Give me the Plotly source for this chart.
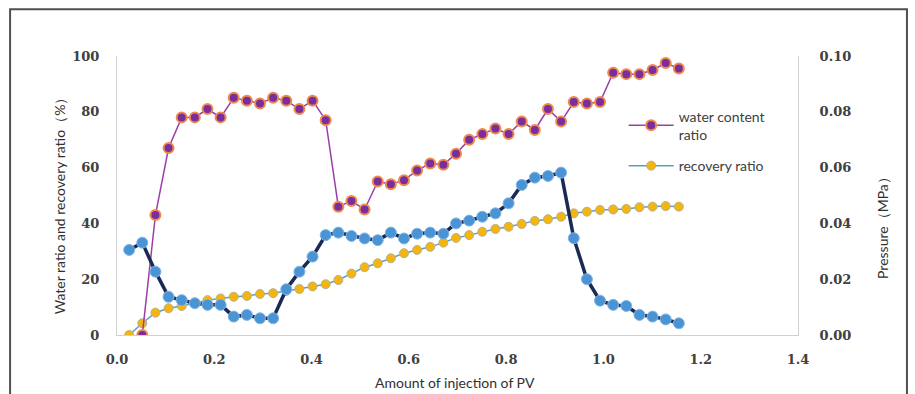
import plotly.graph_objects as go

# Injection amount (PV)
pv = [0.025, 0.052, 0.079, 0.106, 0.133, 0.160, 0.186, 0.213, 0.240, 0.267,
      0.294, 0.321, 0.348, 0.375, 0.402, 0.429, 0.455, 0.482, 0.509, 0.536,
      0.563, 0.590, 0.617, 0.644, 0.671, 0.697, 0.724, 0.751, 0.778, 0.805,
      0.832, 0.859, 0.886, 0.913, 0.939, 0.966, 0.993, 1.020, 1.047, 1.074,
      1.101, 1.128, 1.155]

# Water content ratio (%) - starts at the second PV point
water_content = [None, 0, 43, 67, 78, 78, 81, 78, 85, 84, 83, 85, 84, 81, 84, 77,
                 46, 48, 45, 55, 54, 55.5, 59, 61.5, 61, 65, 70, 72, 74, 72,
                 76.5, 73.5, 81, 76.5, 83.5, 83, 83.5, 94, 93.5, 93.5, 95,
                 97.5, 95.5]

# Recovery ratio (%)
recovery = [0, 4.2, 8.0, 9.6, 10.4, 11.4, 12.5, 13.1, 13.7, 14.0, 14.7, 15.0,
            15.8, 16.5, 17.4, 18.2, 19.7, 22.0, 24.3, 25.7, 27.5, 29.3, 30.5,
            31.6, 33.1, 34.8, 35.8, 37.0, 38.0, 38.8, 39.8, 40.9, 41.5, 42.4,
            43.6, 44.2, 44.8, 45.0, 45.2, 45.8, 46.0, 46.2, 46.0]

# Pressure (MPa)
pressure = [0.0305, 0.0331, 0.0227, 0.0137, 0.0125, 0.0114, 0.0108, 0.0108,
            0.0066, 0.0072, 0.0060, 0.0060, 0.0164, 0.0227, 0.0281, 0.0358,
            0.0367, 0.0355, 0.0346, 0.0340, 0.0367, 0.0346, 0.0363, 0.0367,
            0.0363, 0.0400, 0.0410, 0.0424, 0.0436, 0.0472, 0.0538, 0.0564,
            0.0570, 0.0582, 0.0347, 0.0200, 0.0123, 0.0108, 0.0104, 0.0072,
            0.0066, 0.0056, 0.0042]

x_ticks = [0.0, 0.2, 0.4, 0.6, 0.8, 1.0, 1.2, 1.4]
x_tick_text = ["0.0", "0.2", "0.4", "0.6", "0.8", "1.0", "1.2", "1.4"]
y_ticks = [0, 20, 40, 60, 80, 100]
y2_ticks = [0.0, 0.02, 0.04, 0.06, 0.08, 0.10]
y2_tick_text = ["0.00", "0.02", "0.04", "0.06", "0.08", "0.10"]

TXT = "#404040"
tickfont = dict(family="DejaVu Serif", size=13, color=TXT, weight="bold")

fig = go.Figure()

fig.add_trace(go.Scatter(
    x=pv, y=recovery, name="recovery ratio", mode="lines+markers",
    line=dict(color="#5A9FC0", width=1.5),
    marker=dict(color="#F5B50F", size=9, line=dict(color="#B8B090", width=1)),
    legendrank=2, legendgroup="rec", yaxis="y"))

fig.add_trace(go.Scatter(
    x=pv, y=pressure, name="pressure", mode="lines+markers",
    line=dict(color="#1B2A55", width=3.5),
    marker=dict(color="#4A94D6", size=11, line=dict(color="#7FB6E6", width=1)),
    showlegend=False, yaxis="y2"))

fig.add_trace(go.Scatter(
    x=pv, y=water_content, name="water content<br>ratio", mode="lines+markers",
    line=dict(color="#9A3FA8", width=1.5),
    marker=dict(color="#7A2E9E", size=10, line=dict(color="#EE8A4A", width=2)),
    legendrank=1, legendgroup="wat", yaxis="y"))

fig.update_layout(
    width=915, height=394,
    margin=dict(l=117, r=117, t=56, b=59),
    paper_bgcolor="white", plot_bgcolor="white",
    showlegend=True,
    legend=dict(x=0.744, y=0.84, xanchor="left", yanchor="top",
                bgcolor="rgba(0,0,0,0)", itemwidth=45,
                font=dict(family="Lato", size=14, color=TXT),
                tracegroupgap=10),
    xaxis=dict(range=[0, 1.4], tickvals=x_ticks, ticktext=x_tick_text,
               showgrid=False, zeroline=False, showline=True,
               linecolor="#D0D0D0", linewidth=1, ticks="",
               tickfont=tickfont, ticklabelstandoff=12, fixedrange=True),
    yaxis=dict(range=[0, 100], tickvals=y_ticks, showgrid=False,
               zeroline=False, showline=True, linecolor="#D0D0D0",
               linewidth=1, ticks="", tickfont=tickfont,
               ticklabelstandoff=14),
    yaxis2=dict(range=[0, 0.1], tickvals=y2_ticks, ticktext=y2_tick_text,
                overlaying="y", side="right", showgrid=False, zeroline=False,
                showline=True, linecolor="#D0D0D0", linewidth=1, ticks="",
                tickfont=tickfont, ticklabelstandoff=18),
)

# Axis titles
fig.add_annotation(text="Amount of injection of PV", xref="paper", yref="paper",
                   x=0.497, y=-0.17, xanchor="center", yanchor="middle",
                   showarrow=False,
                   font=dict(family="Lato", size=14, color="#303030"))
fig.add_annotation(text="Water ratio and recovery ratio（%）", xref="paper",
                   yref="paper", x=-0.084, y=0.475, xanchor="center",
                   yanchor="middle", textangle=-90, showarrow=False,
                   font=dict(family="Lato", size=14, color="#303030"))
fig.add_annotation(text="Pressure（MPa）", xref="paper", yref="paper",
                   x=1.125, y=0.395, xanchor="center", yanchor="middle",
                   textangle=-90, showarrow=False,
                   font=dict(family="Lato", size=14, color="#303030"))

# Outer frame
fig.add_shape(type="rect", xref="paper", yref="paper",
              x0=-0.157, x1=1.160, y0=-0.25, y1=1.168,
              line=dict(color="#505050", width=2), fillcolor="rgba(0,0,0,0)",
              layer="below")

fig.write_html("out.html")
